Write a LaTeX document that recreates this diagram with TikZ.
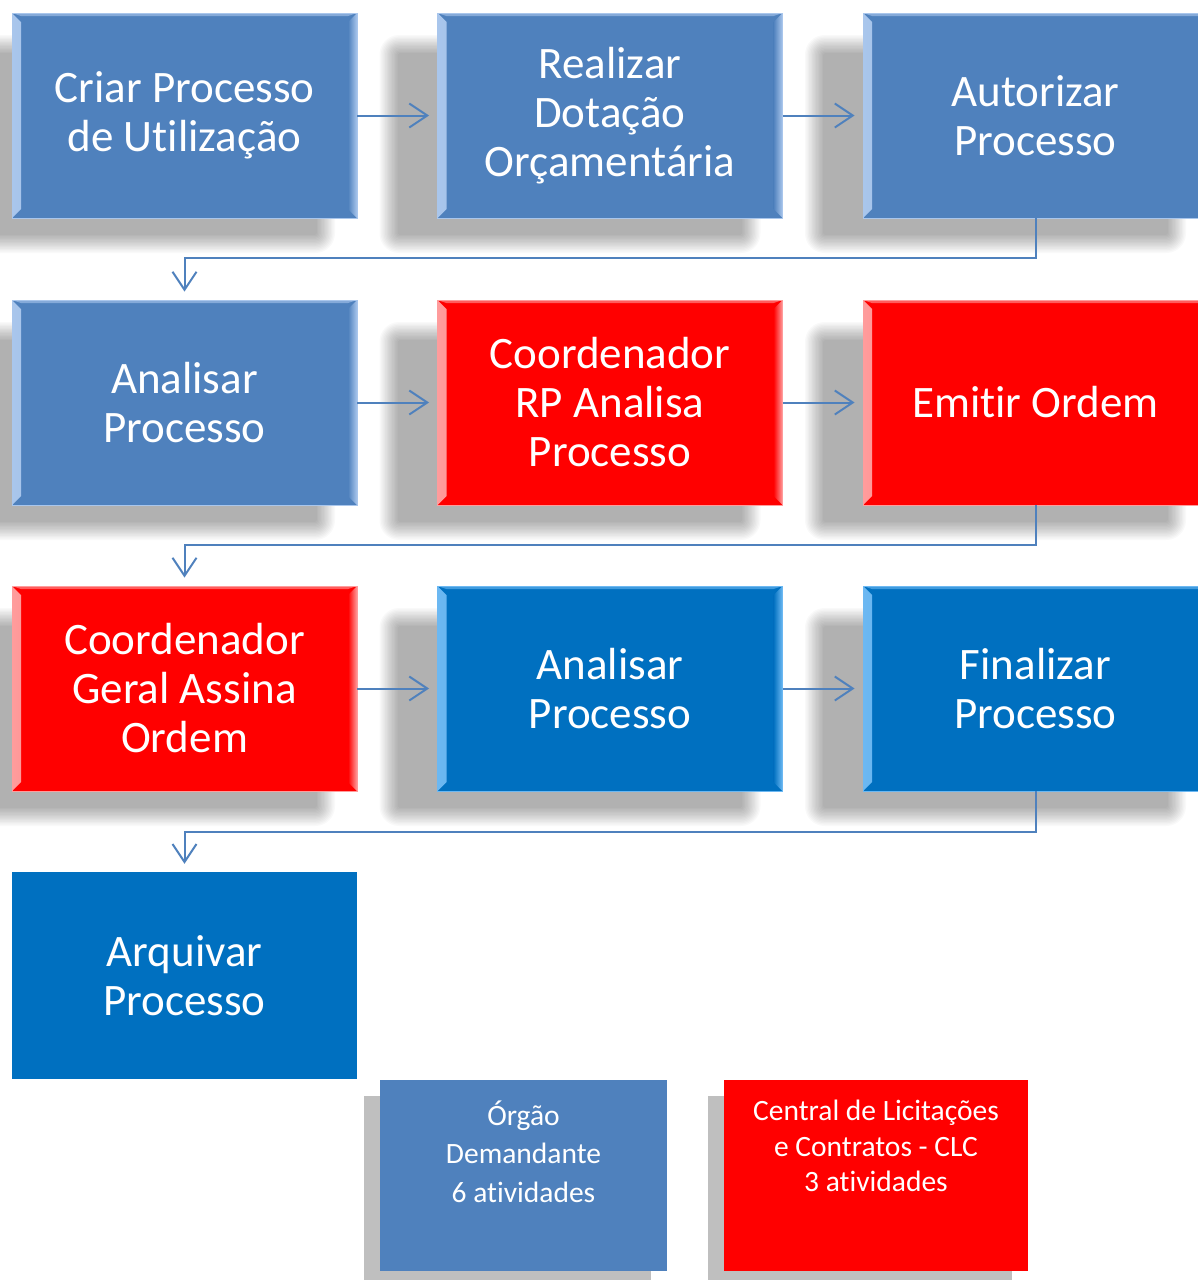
\documentclass[tikz,border=0pt]{standalone}
\usepackage{fontspec}
\setmainfont{Carlito}[Ligatures=NoCommon]
\usetikzlibrary{arrows.meta,backgrounds,calc}
\definecolor{blueA}{HTML}{4F81BD}
\definecolor{blueAl}{HTML}{A9C6EC}
\definecolor{blueB}{HTML}{0070C0}
\definecolor{blueBl}{HTML}{6CB8F2}
\definecolor{redA}{HTML}{FF0000}
\definecolor{redAl}{HTML}{FF9C9C}
\definecolor{conn}{HTML}{4F81BD}
\definecolor{lshadow}{HTML}{BFBFBF}
\tikzset{
  box/.style={minimum width=345pt, minimum height=205pt, inner sep=0pt, align=center,
    text=white, font=\fontsize{45}{49}\selectfont},
  bev/.style 2 args={box, fill=#1, draw=#2, line width=0.8pt,
    path picture={
      \shade[left color=#2, right color=#1]
        (path picture bounding box.north west) -- ([xshift=9pt,yshift=-9pt]path picture bounding box.north west)
        -- ([xshift=9pt,yshift=9pt]path picture bounding box.south west) -- (path picture bounding box.south west) -- cycle;
      \shade[left color=#1, right color=#2]
        (path picture bounding box.north east) -- ([xshift=-9pt,yshift=-9pt]path picture bounding box.north east)
        -- ([xshift=-9pt,yshift=9pt]path picture bounding box.south east) -- (path picture bounding box.south east) -- cycle;
      \fill[#2, opacity=0.6] (path picture bounding box.north west) -- ([xshift=9pt,yshift=-3pt]path picture bounding box.north west)
        -- ([xshift=-9pt,yshift=-3pt]path picture bounding box.north east) -- (path picture bounding box.north east) -- cycle;
    }},
  bluebox/.style={bev={blueA}{blueAl}},
  redbox/.style={bev={redA}{redAl}},
  darkbox/.style={bev={blueB}{blueBl}},
  flatbox/.style={box, fill=blueB},
  legbox/.style={inner sep=0pt},
  legtext/.style={text=white, align=center, font=\fontsize{29.5}{37}\selectfont},
  link/.style={draw=conn, line width=2pt, -{Straight Barb[length=18pt,width=24pt]}, shorten >=8pt},
}
\begin{document}
\begin{tikzpicture}[x=1pt,y=-1pt]
\useasboundingbox (0,0) rectangle (1197,1280);
% row 1
\node[bluebox] (b1) at (184.5,115.5) {Criar Processo\\de Utilização};
\node[bluebox] (b2) at (610,115.5) {Realizar\\Dotação\\Orçamentária};
\node[bluebox] (b3) at (1035.5,115.5) {Autorizar\\Processo};
% row 2
\node[bluebox] (b4) at (184.5,402.5) {Analisar\\Processo};
\node[redbox] (b5) at (610,402.5) {Coordenador\\RP Analisa\\Processo};
\node[redbox] (b6) at (1035.5,402.5) {Emitir Ordem};
% row 3
\node[redbox] (b7) at (184.5,688.5) {Coordenador\\Geral Assina\\Ordem};
\node[darkbox] (b8) at (610,688.5) {Analisar\\Processo};
\node[darkbox] (b9) at (1035.5,688.5) {Finalizar\\Processo};
% row 4
\node[flatbox, minimum height=207pt] (b10) at (184.5,975.5) {Arquivar\\Processo};
% legend
\node[legbox, fill=blueA, minimum width=287pt, minimum height=191pt] (lg1) at (523.5,1175.5) {};
\node[legtext, font=\fontsize{29.5}{38.5}\selectfont] (lg1t) at ([yshift=24pt]lg1.center) {Órgão\\Demandante\\6 atividades};
\node[legbox, fill=redA, minimum width=304pt, minimum height=191pt] (lg2) at (876,1175.5) {};
\node[legtext, font=\fontsize{29.5}{35.5}\selectfont] (lg2t) at ([yshift=29.5pt]lg2.center) {Central de Licitações\\e Contratos - CLC\\3 atividades};
% connectors
\draw[link] (b1) -- (b2);
\draw[link] (b2) -- (b3);
\draw[link] (b4) -- (b5);
\draw[link] (b5) -- (b6);
\draw[link] (b7) -- (b8);
\draw[link] (b8) -- (b9);
\draw[link] (b3.south) -- ++(0,40) -| (b4.north);
\draw[link] (b6.south) -- ++(0,40) -| (b7.north);
\draw[link] (b9.south) -- ++(0,41) -| (b10.north);
% shadows
\begin{scope}[on background layer]
  \fill[white] (0,0) rectangle (1197,1280);
  \foreach \n in {b1,b2,b3,b4,b5,b6,b7,b8,b9}{
    \foreach \k in {1,...,14}{
      \fill[black, fill opacity=0.024, rounded corners=1.4*\k]
        ([shift={(-38-1.4*\k,42-1.4*\k)}]\n.north west) rectangle ([shift={(-42+1.4*\k,15+1.4*\k)}]\n.south east);
    }
  }
  \fill[lshadow] ([shift={(-16,16)}]lg1.north west) rectangle ([shift={(-16,16)}]lg1.south east);
  \fill[lshadow] ([shift={(-16,16)}]lg2.north west) rectangle ([shift={(-16,16)}]lg2.south east);
\end{scope}
\end{tikzpicture}
\end{document}
